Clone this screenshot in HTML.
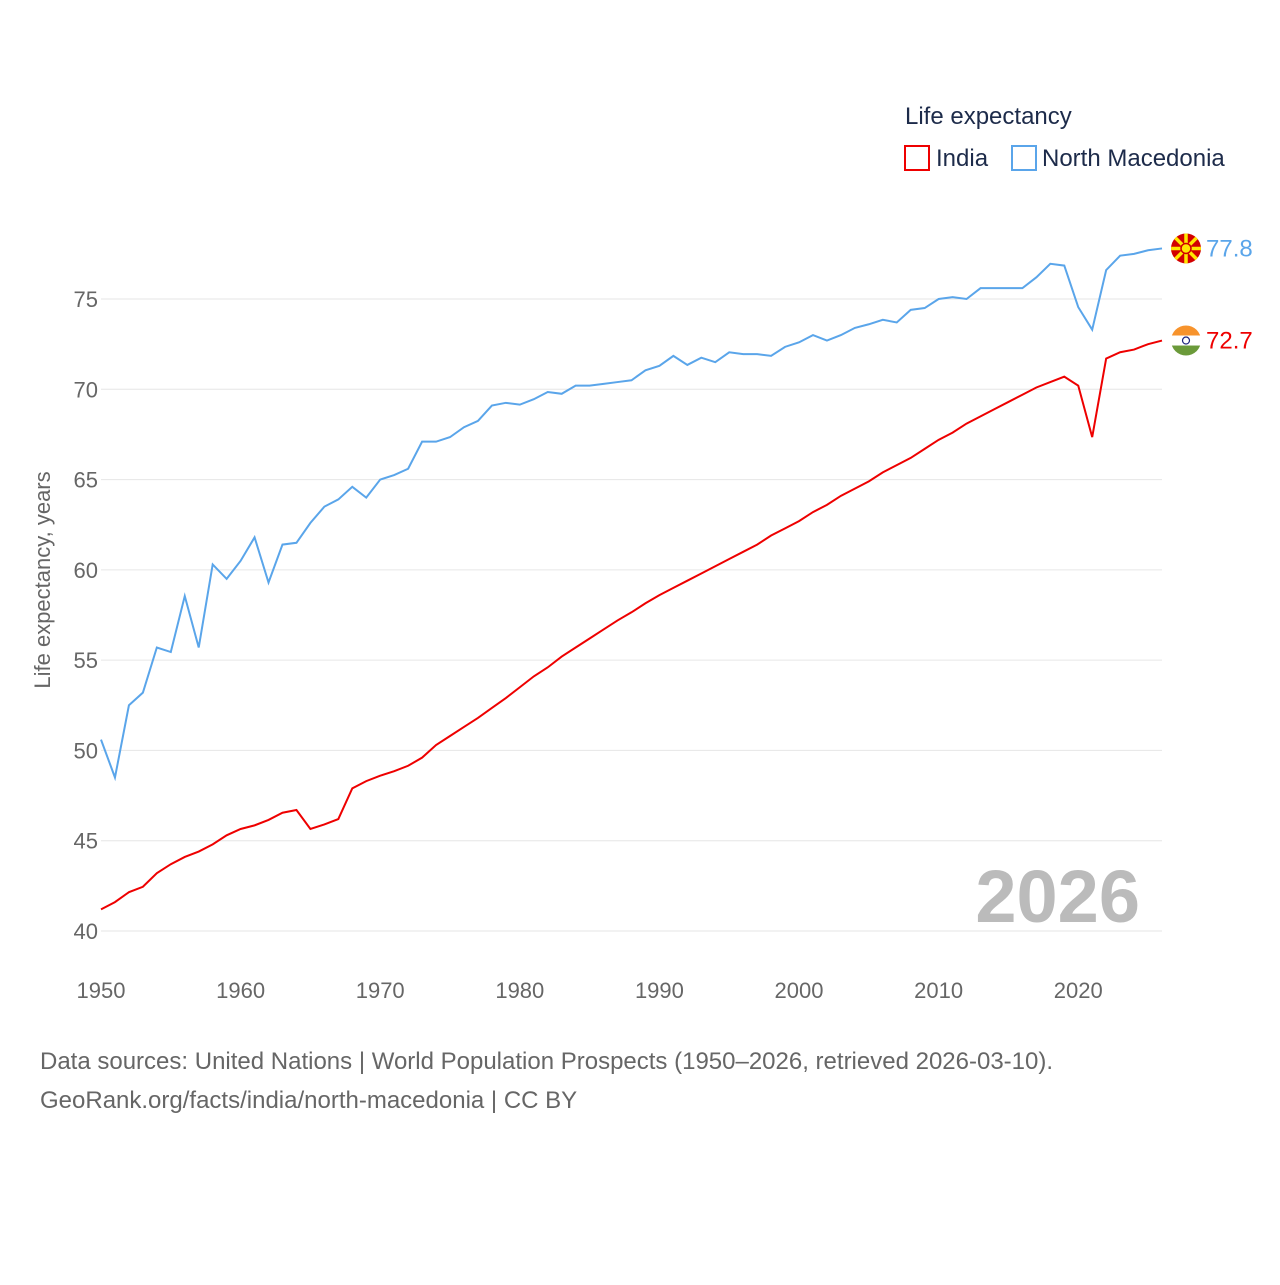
<!DOCTYPE html>
<html><head><meta charset="utf-8"><style>
body{margin:0;background:#fff;font-family:"Liberation Sans",sans-serif;}
svg text{font-family:"Liberation Sans",sans-serif;}
</style></head><body>
<svg id="chart" width="1280" height="1280" xmlns="http://www.w3.org/2000/svg">
<text x="905" y="124" font-size="24" fill="#1d2b4a">Life expectancy</text>
<g><rect x="905" y="146" width="24" height="24" fill="none" stroke="#ee0000" stroke-width="2"/><text x="936" y="166" font-size="24" fill="#1d2b4a">India</text></g>
<g><rect x="1012" y="146" width="24" height="24" fill="none" stroke="#5aa5ea" stroke-width="2"/><text x="1042" y="166" font-size="24" fill="#1d2b4a">North Macedonia</text></g>
<text transform="translate(50,580) rotate(-90)" text-anchor="middle" font-size="22" fill="#666">Life expectancy, years</text>
<text x="1140" y="922" text-anchor="end" font-size="74" font-weight="bold" fill="#bbb">2026</text>
<g id="grid"></g><g id="lines"></g>
<text x="40" y="1069" font-size="24" fill="#666">Data sources: United Nations | World Population Prospects (1950–2026, retrieved 2026-03-10).</text>
<text x="40" y="1108" font-size="24" fill="#666">GeoRank.org/facts/india/north-macedonia | CC BY</text>
</svg>
<script>
const years=[];for(let y=1950;y<=2026;y++)years.push(y);
const yTicks=[40,45,50,55,60,65,70,75];
const xTicks=[1950,1960,1970,1980,1990,2000,2010,2020];
const macedonia=[50.6,48.5,52.5,53.2,55.7,55.45,58.55,55.7,60.3,59.5,60.5,61.8,59.3,61.4,61.5,62.6,63.5,63.9,64.6,64.0,65.0,65.25,65.6,67.1,67.1,67.35,67.9,68.25,69.1,69.25,69.15,69.45,69.85,69.75,70.2,70.2,70.3,70.4,70.5,71.05,71.3,71.85,71.35,71.75,71.5,72.05,71.95,71.95,71.85,72.35,72.6,73.0,72.7,73.0,73.4,73.6,73.85,73.7,74.4,74.5,75.0,75.1,75.0,75.6,75.6,75.6,75.6,76.2,76.95,76.85,74.55,73.3,76.6,77.4,77.5,77.7,77.8];
const india=[41.2,41.6,42.15,42.45,43.2,43.7,44.1,44.4,44.8,45.3,45.65,45.85,46.15,46.55,46.7,45.65,45.9,46.2,47.9,48.3,48.6,48.85,49.15,49.6,50.3,50.8,51.3,51.8,52.35,52.9,53.5,54.1,54.6,55.2,55.7,56.2,56.7,57.2,57.65,58.15,58.6,59.0,59.4,59.8,60.2,60.6,61.0,61.4,61.9,62.3,62.7,63.2,63.6,64.1,64.5,64.9,65.4,65.8,66.2,66.7,67.2,67.6,68.1,68.5,68.9,69.3,69.7,70.1,70.4,70.7,70.2,67.35,71.7,72.05,72.2,72.5,72.7];
const NS="http://www.w3.org/2000/svg";
const X=y=>101+(y-1950)*(1162-101)/76;
const Y=v=>931-(v-40)*(931-299)/35;
const grid=document.getElementById('grid'),lines=document.getElementById('lines');
function mk(tag,at,parent){const e=document.createElementNS(NS,tag);for(const k in at)e.setAttribute(k,at[k]);parent.appendChild(e);return e;}
yTicks.forEach(t=>{
 const l=mk('line',{x1:101,x2:1162,y1:Y(t),y2:Y(t),stroke:'#e6e6e6','stroke-width':1},grid);
 
 
 const tx=mk('text',{x:98,y:Y(t)+8,'text-anchor':'end','font-size':22,fill:'#666'},grid);tx.textContent=t;
 
 
});
xTicks.forEach(t=>{
 const tx=mk('text',{x:X(t),y:998,'text-anchor':'middle','font-size':22,fill:'#666'},grid);tx.textContent=t;
 
 
});
function series(vals,col,name,flag){
 const p=mk('polyline',{points:vals.map((v,i)=>X(years[i])+','+Y(v)).join(' '),fill:'none',stroke:col,'stroke-width':2},lines);
 
 
 const last=vals[vals.length-1],cy=Y(last);
 const g=mk('g',{},lines);
 
 
 const cid='c'+name;
 const cp=mk('clipPath',{id:cid},g);mk('circle',{cx:1186,cy:cy,r:15},cp);
 const gg=mk('g',{'clip-path':'url(#'+cid+')'},g);
 if(flag==='in'){mk('rect',{x:1170,y:cy-15,width:32,height:10,fill:'#f7932c'},gg);mk('rect',{x:1170,y:cy-5,width:32,height:10,fill:'#fff'},gg);mk('rect',{x:1170,y:cy+5,width:32,height:10,fill:'#6b9a3a'},gg);mk('circle',{cx:1186,cy:cy,r:3.5,fill:'none',stroke:'#1a237e','stroke-width':1.2},gg);}
 else{mk('rect',{x:1170,y:cy-15,width:32,height:30,fill:'#d20000'},gg);for(let a=0;a<8;a++){const r=a*Math.PI/4;mk('line',{x1:1186,y1:cy,x2:1186+20*Math.cos(r),y2:cy+20*Math.sin(r),stroke:'#ffe600','stroke-width':3.5},gg);}mk('circle',{cx:1186,cy:cy,r:5,fill:'#ffe600',stroke:'#d20000','stroke-width':1.5},gg);}
 const tx=mk('text',{x:1206,y:cy+8,'font-size':24,fill:col},lines);tx.textContent=last.toFixed(1);
 
 
}
series(macedonia,'#5aa5ea','north-macedonia','mk');
series(india,'#ee0000','india','in');
</script>
</body></html>
